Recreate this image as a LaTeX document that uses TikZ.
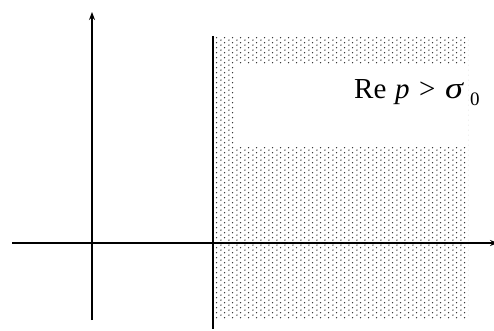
\documentclass[tikz,border=0pt]{standalone}
\usepackage{fontspec}
\setmainfont{Liberation Serif}
\usetikzlibrary{arrows.meta,patterns.meta}
\tikzdeclarepattern{name=mydots,type=uncolored,
  bounding box={(0pt,0pt) and (7.6pt,5.4pt)},
  tile size={(7.6pt,5.4pt)},
  code={\fill (1pt,1pt) circle (0.75pt); \fill (4.8pt,3.7pt) circle (0.75pt);}}
\tikzset{axis/.style={line width=1.4pt,-{Stealth[length=8pt,width=6pt]}},
  plain/.style={line width=1.4pt},
  txt/.style={anchor=base west,inner sep=0pt,font=\fontsize{29}{34}\selectfont},
  sub/.style={anchor=base west,inner sep=0pt,font=\fontsize{19}{23}\selectfont}}
\begin{document}
\begin{tikzpicture}[x=1pt,y=-1pt]
\useasboundingbox (0,0) rectangle (494,331);
% shaded half-plane
\fill[pattern={mydots},pattern color=black!85] (214,37) rectangle (468,318);
\fill[white] (235,64) rectangle (468,147);
\node[txt] (re) at (354,99) {Re};
\node[txt] (p) at (395,99) {\textit{p}};
\node[txt] (gt) at (419,99) {>};
\node[txt] (sig) at (445,99) {\scalebox{1.25}[1.05]{\textit{σ}}};
\node[sub] (zero) at (470,106) {0};
% axes
\coordinate (xs) at (12,243);
\coordinate (xe) at (498,243);
\coordinate (ys) at (92,320);
\coordinate (ye) at (92,12);
\coordinate (ls) at (213,36);
\coordinate (le) at (213,329);
\draw[axis] (xs) -- (xe);
\draw[axis] (ys) -- (ye);
\draw[plain] (ls) -- (le);
\end{tikzpicture}
\end{document}
